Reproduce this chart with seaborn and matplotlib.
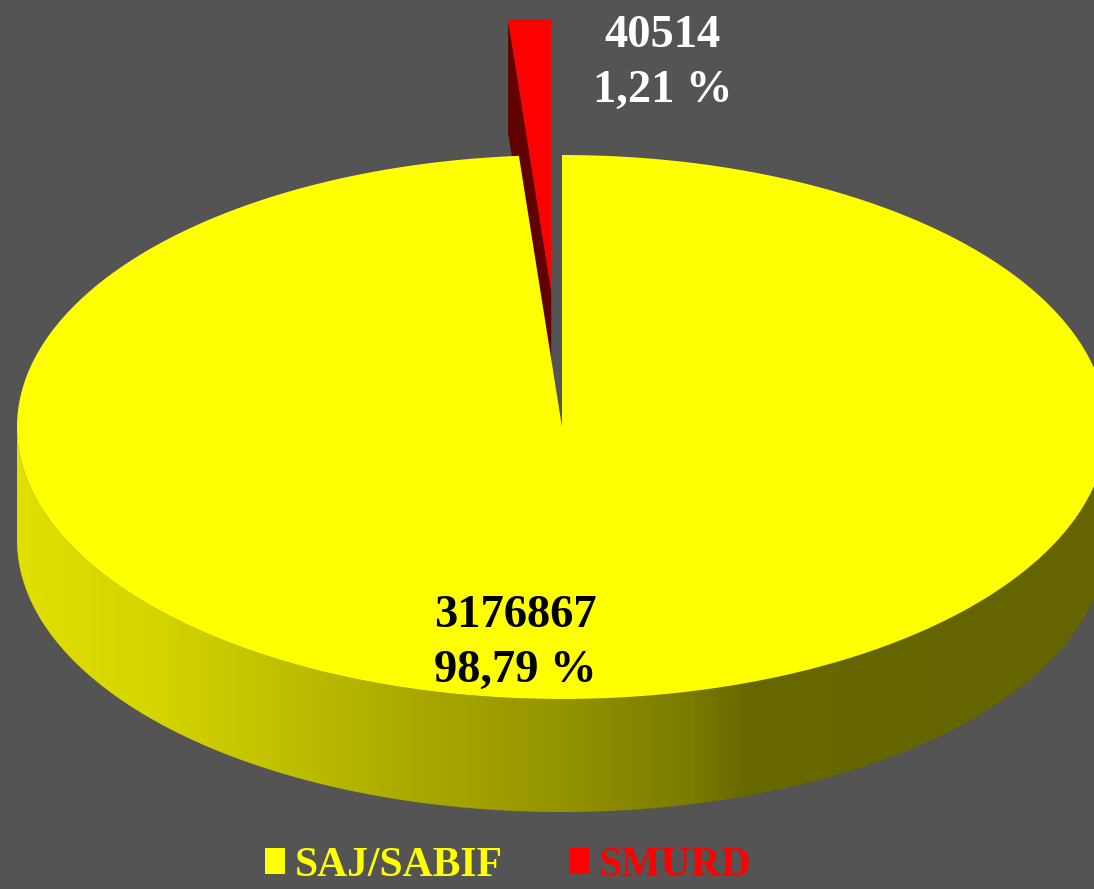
import numpy as np
import matplotlib
matplotlib.use("Agg")
import matplotlib.pyplot as plt
import seaborn as sns
from matplotlib.patches import Polygon, Patch
from matplotlib.colors import LinearSegmentedColormap

# ---------------- data ----------------
categories = ["SAJ/SABIF", "SMURD"]
values = [3176867, 40514]
pct_labels = ["98,79 %", "1,21 %"]
colors = ["#FFFF00", "#FF0000"]
side_colors = ["#DEDE00", "#600000"]
explode = [0.0, 0.5]

BG = "#545454"
sns.set_theme(style="white", rc={"figure.facecolor": BG, "axes.facecolor": BG})
plt.rcParams["font.family"] = ["Liberation Serif", "DejaVu Serif"]

W, H = 1094, 889
fig = plt.figure(figsize=(W / 100, H / 100), dpi=100)
ax = fig.add_axes([0, 0, 1, 1])
ax.set_facecolor(BG)

# projected pie geometry (pixel-like data coordinates)
cx, cy, rx, ry, depth = 562, 427, 545, 272, 113

total = float(sum(values))
fracs = [v / total for v in values]

# slices laid out counter-clockwise from 12 o'clock: SMURD first, then SAJ/SABIF
order = [1, 0]
angles = {}
a = 90.0
for i in order:
    span = 360.0 * fracs[i]
    angles[i] = (a, a + span)
    a += span


def pt(theta, off, z=0.0, r=1.0):
    t = np.deg2rad(theta)
    return (cx + off[0] + r * rx * np.cos(t), cy + off[1] - r * ry * np.sin(t) + z)


def arc(a0, a1, off, z=0.0, n=400):
    th = np.linspace(a0, a1, n)
    return [pt(t, off, z) for t in th]


# wall shading for the yellow slice (light left -> dark right)
wall_stops = [(0.0, 224), (0.13, 212), (0.24, 192), (0.37, 168), (0.50, 148),
              (0.62, 122), (0.67, 104), (1.0, 100)]
wall_cmap = LinearSegmentedColormap.from_list(
    "wall", [(u, (g / 255, g / 255, 0)) for u, g in wall_stops])

# draw back (exploded) slice first, then the main slice
for i in [1, 0]:
    a0, a1 = angles[i]
    mid = np.deg2rad((a0 + a1) / 2)
    off = (explode[i] * rx * np.cos(mid), -explode[i] * ry * np.sin(mid))
    apex_t = (cx + off[0], cy + off[1])
    apex_b = (cx + off[0], cy + off[1] + depth)

    # radial faces
    if np.cos(np.deg2rad(a1)) < -1e-6:
        face = [apex_t, pt(a1, off), pt(a1, off, depth), apex_b]
        ax.add_patch(Polygon(face, closed=True, facecolor=side_colors[i], edgecolor="none", zorder=2))
    if np.cos(np.deg2rad(a0)) > 1e-6:
        face = [apex_t, pt(a0, off), pt(a0, off, depth), apex_b]
        ax.add_patch(Polygon(face, closed=True, facecolor=side_colors[i], edgecolor="none", zorder=2))

    # outer curved wall (front half only)
    lo = max(a0, 180.0)
    hi = min(a1, 360.0)
    if hi > lo:
        top = arc(lo, hi, off)
        bot = arc(hi, lo, off, depth)
        wall = Polygon(top + bot, closed=True, facecolor="none", edgecolor="none", zorder=2)
        ax.add_patch(wall)
        if i == 0:
            grad = np.linspace(0, 1, 512).reshape(1, -1)
            im = ax.imshow(grad, cmap=wall_cmap, vmin=0, vmax=1, aspect="auto",
                           extent=[cx - rx + off[0], cx + rx + off[0],
                                   cy + off[1] + ry + depth + 2, cy + off[1] - 2],
                           interpolation="bilinear", zorder=2)
            im.set_clip_path(wall)
        else:
            wall.set_facecolor(side_colors[i])

    # top face
    top_face = [apex_t] + arc(a0, a1, off)
    ax.add_patch(Polygon(top_face, closed=True, facecolor=colors[i], edgecolor="none", zorder=3))

# data labels
ax.text(515, 682, f"{values[0]}\n{pct_labels[0]}", ha="center", va="baseline",
        fontsize=33.5, fontweight="bold", color="black", linespacing=1.42, zorder=5)
ax.text(662.5, 102, f"{values[1]}\n{pct_labels[1]}", ha="center", va="baseline",
        fontsize=33.5, fontweight="bold", color="white", linespacing=1.42, zorder=5)

ax.set_xlim(0, W)
ax.set_ylim(H, 0)
ax.axis("off")

handles = [Patch(facecolor=colors[k], edgecolor="none", label=categories[k]) for k in range(2)]
leg = ax.legend(handles=handles, loc="center", bbox_to_anchor=(508.5 / W, 1 - 866 / H),
                ncol=2, frameon=False,
                prop={"family": "Liberation Serif", "weight": "bold", "size": 30},
                labelcolor=colors, handlelength=0.46, handleheight=0.58,
                handletextpad=0.25, columnspacing=1.6, borderpad=0.0)

fig.savefig("out.png", dpi=100, facecolor=BG)
